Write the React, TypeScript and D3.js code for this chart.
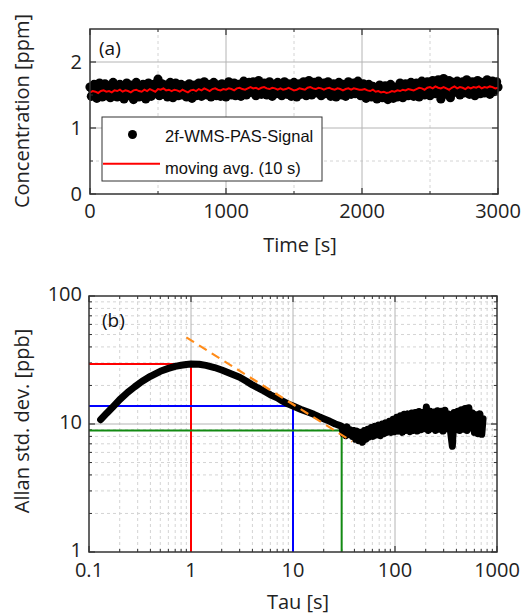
import React from "react";
import * as d3 from "d3";

// panel (a): 2f-WMS-PAS signal, sampled every 10 s
const signalStep = 10;
const signal = [
  1.62, 1.48, 1.57, 1.66, 1.50, 1.45, 1.60, 1.68, 1.52, 1.47,
  1.58, 1.67, 1.49, 1.53, 1.64, 1.46, 1.59, 1.69, 1.51, 1.55,
  1.47, 1.63, 1.66, 1.50, 1.57, 1.44, 1.61, 1.68, 1.52, 1.49,
  1.65, 1.56, 1.43, 1.60, 1.69, 1.51, 1.47, 1.62, 1.58, 1.66,
  1.50, 1.44, 1.63, 1.68, 1.55, 1.48, 1.61, 1.66, 1.52, 1.59,
  1.74, 1.49, 1.62, 1.67, 1.51, 1.56, 1.65, 1.47, 1.60, 1.69,
  1.53, 1.46, 1.63, 1.68, 1.55, 1.49, 1.62, 1.66, 1.50, 1.58,
  1.64, 1.47, 1.52, 1.67, 1.59, 1.45, 1.61, 1.65, 1.49, 1.56,
  1.68, 1.51, 1.48, 1.63, 1.70, 1.54, 1.50, 1.66, 1.59, 1.47,
  1.62, 1.69, 1.52, 1.49, 1.65, 1.57, 1.48, 1.67, 1.60, 1.53,
  1.47, 1.64, 1.70, 1.55, 1.50, 1.62, 1.68, 1.49, 1.58, 1.66,
  1.52, 1.48, 1.65, 1.71, 1.56, 1.50, 1.63, 1.69, 1.54, 1.61,
  1.70, 1.53, 1.49, 1.66, 1.72, 1.57, 1.51, 1.64, 1.68, 1.55,
  1.50, 1.63, 1.70, 1.54, 1.48, 1.66, 1.61, 1.52, 1.69, 1.57,
  1.64, 1.49, 1.55, 1.70, 1.60, 1.51, 1.67, 1.53, 1.48, 1.65,
  1.69, 1.56, 1.47, 1.62, 1.67, 1.51, 1.58, 1.70, 1.52, 1.49,
  1.66, 1.72, 1.54, 1.50, 1.65, 1.69, 1.53, 1.60, 1.71, 1.55,
  1.49, 1.63, 1.68, 1.52, 1.57, 1.70, 1.54, 1.48, 1.64, 1.67,
  1.53, 1.47, 1.62, 1.69, 1.55, 1.50, 1.66, 1.60, 1.48, 1.64,
  1.70, 1.56, 1.51, 1.65, 1.68, 1.52, 1.59, 1.71, 1.54, 1.49,
  1.62, 1.67, 1.50, 1.45, 1.60, 1.66, 1.53, 1.47, 1.63, 1.57,
  1.48, 1.44, 1.61, 1.65, 1.52, 1.46, 1.58, 1.64, 1.50, 1.43,
  1.59, 1.66, 1.49, 1.45, 1.62, 1.55, 1.47, 1.63, 1.68, 1.51,
  1.46, 1.60, 1.67, 1.53, 1.49, 1.64, 1.69, 1.55, 1.48, 1.62,
  1.68, 1.52, 1.47, 1.65, 1.71, 1.56, 1.50, 1.66, 1.70, 1.53,
  1.49, 1.64, 1.72, 1.58, 1.52, 1.68, 1.73, 1.55, 1.44, 1.66,
  1.75, 1.57, 1.51, 1.67, 1.72, 1.46, 1.62, 1.69, 1.54, 1.60,
  1.71, 1.55, 1.50, 1.66, 1.70, 1.53, 1.61, 1.73, 1.56, 1.51,
  1.64, 1.70, 1.54, 1.49, 1.67, 1.72, 1.57, 1.52, 1.69, 1.62,
  1.53, 1.66, 1.73, 1.58, 1.51, 1.68, 1.71, 1.55, 1.64, 1.70,
  1.62,
];

// moving average (10 s), sampled every 20 s
const avgStep = 20;
const movingAvg = [
  1.54, 1.56, 1.55, 1.53, 1.56, 1.57, 1.55, 1.56, 1.54, 1.57,
  1.56, 1.58, 1.55, 1.57, 1.56, 1.54, 1.57, 1.58, 1.56, 1.55,
  1.58, 1.56, 1.59, 1.57, 1.55, 1.59, 1.58, 1.60, 1.57, 1.58,
  1.56, 1.58, 1.57, 1.55, 1.58, 1.56, 1.54, 1.57, 1.58, 1.56,
  1.59, 1.57, 1.60, 1.58, 1.56, 1.59, 1.60, 1.58, 1.57, 1.59,
  1.58, 1.60, 1.59, 1.57, 1.60, 1.61, 1.59, 1.58, 1.60, 1.62,
  1.60, 1.61, 1.59, 1.61, 1.62, 1.60, 1.59, 1.61, 1.60, 1.58,
  1.60, 1.58, 1.59, 1.61, 1.59, 1.57, 1.58, 1.60, 1.59, 1.58,
  1.61, 1.62, 1.60, 1.59, 1.61, 1.60, 1.58, 1.60, 1.61, 1.59,
  1.58, 1.60, 1.59, 1.57, 1.59, 1.60, 1.58, 1.60, 1.59, 1.58,
  1.58, 1.59, 1.57, 1.56, 1.58, 1.55, 1.56, 1.54, 1.55, 1.53,
  1.54, 1.56, 1.55, 1.57, 1.56, 1.58, 1.57, 1.59, 1.58, 1.57,
  1.59, 1.61, 1.60, 1.58, 1.61, 1.62, 1.60, 1.63, 1.61, 1.60,
  1.62, 1.60, 1.58, 1.61, 1.63, 1.60, 1.62, 1.61, 1.59, 1.62,
  1.60, 1.62, 1.61, 1.63, 1.60, 1.62, 1.61, 1.63, 1.62, 1.60,
  1.61,
];

// panel (b): Allan deviation
const tau = [
  0.13, 0.15, 0.17, 0.2, 0.24, 0.28, 0.33, 0.4, 0.5, 0.6, 0.7, 0.8, 0.9, 1.0,
  1.2, 1.4, 1.7, 2.0, 2.5, 3.0, 3.5, 4.0, 4.5, 5, 6, 7, 8, 9, 10, 12, 14, 16,
  18, 20, 23, 26, 28,
  30, 31, 32, 33, 34, 35, 36.5, 38, 39.5, 41, 42.5, 44, 46, 48, 50, 52, 54, 56,
  58.5, 61, 63.5, 66, 69, 72, 75, 78, 81, 84, 88, 92, 96, 100, 104, 108, 113,
  118, 123, 128, 134, 140, 146, 152, 158, 165, 172, 179, 187, 195, 203, 212,
  221, 230, 240, 250, 261, 272, 284, 296, 309, 322, 336, 350, 365, 380, 396,
  413, 430, 448, 467, 487, 508, 530, 552, 575, 600, 625, 652, 680, 709, 730,
];
const adev = [
  10.8, 12.2, 13.5, 15.5, 17.7, 19.5, 21.5, 23.6, 25.8, 27.2, 28.2, 28.8, 29.2, 29.4,
  29.3, 28.7, 27.6, 26.4, 24.6, 23.2, 21.6, 20.2, 19.2, 18.4, 16.9, 16.0, 15.0, 14.3, 13.8, 13.0, 12.4, 11.9,
  11.4, 11.0, 10.5, 10.0, 9.8,
  9.6, 8.4, 9.3, 8.1, 9.5, 8.3, 9.0, 8.0, 8.9, 7.6, 8.8, 7.4, 8.6, 7.2, 8.9, 7.6, 9.1, 7.9,
  9.4, 8.0, 9.6, 8.2, 9.8, 8.1, 10.0, 8.4, 10.2, 8.6, 10.5, 8.6, 10.9, 8.7, 11.3, 8.8, 11.6,
  8.6, 11.9, 8.9, 12.0, 8.7, 12.2, 8.9, 12.3, 8.8, 12.5, 9.0, 12.3, 9.2, 13.6, 8.9,
  12.6, 9.2, 12.4, 8.9, 12.7, 9.1, 12.6, 8.8, 12.8, 9.2, 12.0, 8.8, 6.7, 12.3, 9.0,
  12.6, 8.9, 12.9, 9.1, 13.2, 8.9, 13.4, 9.3, 12.2, 8.6, 11.8, 8.4, 12.0, 8.3, 11.0,
];

// tau^-1/2 guide and marked levels
const fitTau = [0.9, 38];
const fitAdev = [47.5, 7.3];
const markTau = [1, 10, 30];
const markAdev = [29.4, 13.8, 8.9];
const markColors = ["#ff0000", "#0000ff", "#138a13"];

const timeTicks = [0, 1000, 2000, 3000];
const timeMinor = [500, 1500, 2500];
const concTicks = [0, 1, 2];
const concMinor = [0.5, 1.5];
const tauTicks = [0.1, 1, 10, 100, 1000];
const adevTicks = [1, 10, 100];

const FONT = "'Open Sans', 'DejaVu Sans', sans-serif";
const ARIAL = "'Liberation Sans', Arial, sans-serif";
const FRAME = "#333";
const GRID = "#b4b4b4";
const MINOR = "#d4d4d4";

function minorLog(lo: number, hi: number) {
  const out: number[] = [];
  for (let dec = lo; dec < hi; dec *= 10)
    for (let k = 2; k <= 9; k++) out.push(dec * k);
  return out;
}

export default function App() {
  // top panel
  const x1 = d3.scaleLinear().domain([0, 3000]).range([90, 498]);
  const y1 = d3.scaleLinear().domain([0, 2.5]).range([194, 29]);
  // bottom panel
  const x2 = d3.scaleLog().domain([0.1, 1000]).range([89, 497]);
  const y2 = d3.scaleLog().domain([1, 100]).range([552, 296]);

  const avgLine = d3
    .line<number>()
    .x((_, i) => x1(i * avgStep))
    .y((d) => y1(d));
  const adevLine = d3
    .line<number>()
    .x((_, i) => x2(tau[i]))
    .y((d) => y2(d));
  const fitLine = d3
    .line<number>()
    .x((_, i) => x2(fitTau[i]))
    .y((d) => y2(d));

  const tauMinor = minorLog(0.1, 1000);
  const adevMinor = minorLog(1, 100);

  const [l1, r1] = x1.range();
  const [b1, t1] = y1.range();
  const [l2, r2] = x2.range();
  const [b2, t2] = y2.range();

  return (
    <svg
      width={528}
      height={615}
      style={{ position: "absolute", left: 0, top: 0, background: "#fff" }}
    >
      {/* ---------- panel (a) ---------- */}
      {timeMinor.map((t) => (
        <line key={"gx" + t} x1={x1(t)} x2={x1(t)} y1={t1} y2={b1} stroke={MINOR} strokeDasharray="3,3" />
      ))}
      {concMinor.map((c) => (
        <line key={"gy" + c} x1={l1} x2={r1} y1={y1(c)} y2={y1(c)} stroke={MINOR} strokeDasharray="3,3" />
      ))}
      {timeTicks.slice(1, -1).map((t) => (
        <line key={"Gx" + t} x1={x1(t)} x2={x1(t)} y1={t1} y2={b1} stroke={GRID} />
      ))}
      {[1, 2].map((c) => (
        <line key={"Gy" + c} x1={l1} x2={r1} y1={y1(c)} y2={y1(c)} stroke={GRID} />
      ))}

      {signal.map((v, i) => (
        <circle key={"s" + i} cx={x1(i * signalStep)} cy={y1(v)} r={4.6} fill="#000" />
      ))}
      <path d={avgLine(movingAvg) ?? ""} fill="none" stroke="#ff0000" strokeWidth={2} />

      {/* ticks */}
      {timeTicks.map((t) => (
        <g key={"tx" + t} stroke={FRAME} strokeWidth={1.2}>
          <line x1={x1(t)} x2={x1(t)} y1={b1} y2={b1 - 6} />
          <line x1={x1(t)} x2={x1(t)} y1={t1} y2={t1 + 6} />
        </g>
      ))}
      {timeMinor.map((t) => (
        <g key={"mx" + t} stroke={FRAME} strokeWidth={1}>
          <line x1={x1(t)} x2={x1(t)} y1={b1} y2={b1 - 3} />
          <line x1={x1(t)} x2={x1(t)} y1={t1} y2={t1 + 3} />
        </g>
      ))}
      {concTicks.map((c) => (
        <g key={"ty" + c} stroke={FRAME} strokeWidth={1.2}>
          <line x1={l1} x2={l1 + 6} y1={y1(c)} y2={y1(c)} />
          <line x1={r1} x2={r1 - 6} y1={y1(c)} y2={y1(c)} />
        </g>
      ))}
      {concMinor.map((c) => (
        <g key={"my" + c} stroke={FRAME} strokeWidth={1}>
          <line x1={l1} x2={l1 + 3} y1={y1(c)} y2={y1(c)} />
          <line x1={r1} x2={r1 - 3} y1={y1(c)} y2={y1(c)} />
        </g>
      ))}

      {/* legend */}
      <rect x={102} y={117} width={220} height={64} fill="#fff" stroke={FRAME} strokeWidth={1} />
      <circle cx={132.5} cy={134.5} r={4.5} fill="#000" />
      <text x={165} y={142} fontFamily={ARIAL} fontSize={16.5} fill="#111">2f-WMS-PAS-Signal</text>
      <line x1={103} x2={160} y1={163.7} y2={163.7} stroke="#ff0000" strokeWidth={2} />
      <text x={165} y={173.5} fontFamily={ARIAL} fontSize={16.5} fill="#111">moving avg. (10 s)</text>

      <rect x={l1} y={t1} width={r1 - l1} height={b1 - t1} fill="none" stroke={FRAME} strokeWidth={1.5} />
      <text x={99} y={55} fontFamily={FONT} fontSize={19} fill="#111">(a)</text>

      {concTicks.map((c) => (
        <text key={"ly" + c} x={82} y={y1(c)} dy="0.33em" textAnchor="end" fontFamily={FONT} fontSize={20} fill="#222">
          {c}
        </text>
      ))}
      {timeTicks.map((t) => (
        <text key={"lx" + t} x={x1(t)} y={218} textAnchor="middle" fontFamily={FONT} fontSize={20} fill="#222">
          {t}
        </text>
      ))}
      <text x={300} y={252} textAnchor="middle" fontFamily={FONT} fontSize={20} fill="#222">Time [s]</text>
      <text transform="translate(29,111) rotate(-90)" textAnchor="middle" fontFamily={FONT} fontSize={20} fill="#222">
        Concentration [ppm]
      </text>

      {/* ---------- panel (b) ---------- */}
      {tauMinor.map((t) => (
        <line key={"bgx" + t} x1={x2(t)} x2={x2(t)} y1={t2} y2={b2} stroke={MINOR} strokeDasharray="3,3" />
      ))}
      {adevMinor.map((a) => (
        <line key={"bgy" + a} x1={l2} x2={r2} y1={y2(a)} y2={y2(a)} stroke={MINOR} strokeDasharray="3,3" />
      ))}
      {tauTicks.slice(1, -1).map((t) => (
        <line key={"bGx" + t} x1={x2(t)} x2={x2(t)} y1={t2} y2={b2} stroke={GRID} />
      ))}
      <line x1={l2} x2={r2} y1={y2(10)} y2={y2(10)} stroke={GRID} />

      {/* ticks */}
      {tauTicks.map((t) => (
        <g key={"btx" + t} stroke={FRAME} strokeWidth={1.2}>
          <line x1={x2(t)} x2={x2(t)} y1={b2} y2={b2 - 6} />
          <line x1={x2(t)} x2={x2(t)} y1={t2} y2={t2 + 6} />
        </g>
      ))}
      {tauMinor.map((t) => (
        <g key={"bmx" + t} stroke={FRAME} strokeWidth={1}>
          <line x1={x2(t)} x2={x2(t)} y1={b2} y2={b2 - 3} />
          <line x1={x2(t)} x2={x2(t)} y1={t2} y2={t2 + 3} />
        </g>
      ))}
      {adevTicks.map((a) => (
        <g key={"bty" + a} stroke={FRAME} strokeWidth={1.2}>
          <line x1={l2} x2={l2 + 6} y1={y2(a)} y2={y2(a)} />
          <line x1={r2} x2={r2 - 6} y1={y2(a)} y2={y2(a)} />
        </g>
      ))}
      {adevMinor.map((a) => (
        <g key={"bmy" + a} stroke={FRAME} strokeWidth={1}>
          <line x1={l2} x2={l2 + 3} y1={y2(a)} y2={y2(a)} />
          <line x1={r2} x2={r2 - 3} y1={y2(a)} y2={y2(a)} />
        </g>
      ))}

      {/* marked levels */}
      {markTau.map((t, i) => (
        <path
          key={"mk" + t}
          d={`M${l2},${y2(markAdev[i])}H${x2(t)}V${b2}`}
          fill="none"
          stroke={markColors[i]}
          strokeWidth={2}
        />
      ))}

      <path
        d={adevLine(adev) ?? ""}
        fill="none"
        stroke="#000"
        strokeWidth={7}
        strokeLinejoin="round"
        strokeLinecap="round"
      />
      <path
        d={fitLine(fitAdev) ?? ""}
        fill="none"
        stroke="#ff8c1a"
        strokeWidth={2.2}
        strokeDasharray="9,6"
      />

      <rect x={l2} y={t2} width={r2 - l2} height={b2 - t2} fill="none" stroke={FRAME} strokeWidth={1.5} />
      <text x={102} y={327} fontFamily={FONT} fontSize={19} fill="#111">(b)</text>

      {adevTicks.map((a) => (
        <text key={"bly" + a} x={82} y={y2(a) - 1.5} dy="0.33em" textAnchor="end" fontFamily={FONT} fontSize={20} fill="#222">
          {a}
        </text>
      ))}
      {tauTicks.map((t) => (
        <text key={"blx" + t} x={x2(t)} y={577} textAnchor="middle" fontFamily={FONT} fontSize={20} fill="#222">
          {t}
        </text>
      ))}
      <text x={298} y={609} textAnchor="middle" fontFamily={FONT} fontSize={20} fill="#222">Tau [s]</text>
      <text transform="translate(29,421) rotate(-90)" textAnchor="middle" fontFamily={FONT} fontSize={20} fill="#222">
        Allan std. dev. [ppb]
      </text>
    </svg>
  );
}
